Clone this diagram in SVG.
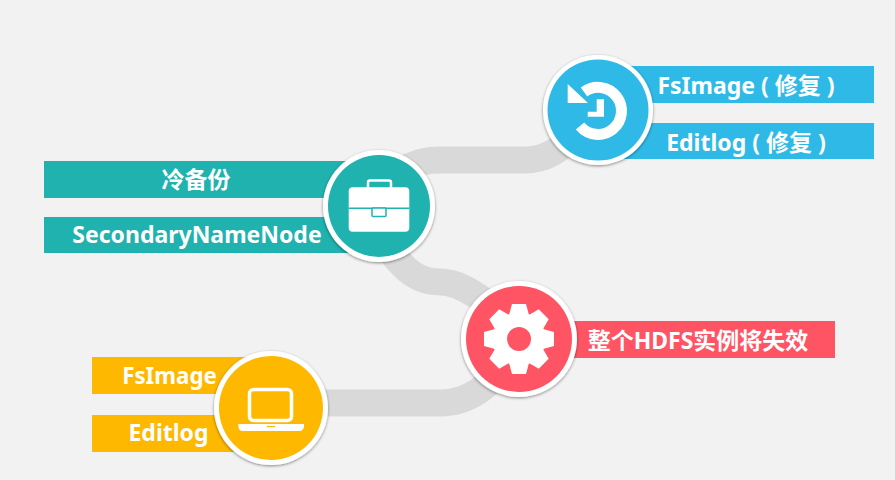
<svg xmlns="http://www.w3.org/2000/svg" width="895" height="480" viewBox="0 0 895 480">
<style>
text{font-family:"Noto Sans","Noto Sans CJK SC",sans-serif;font-weight:700;fill:#fff;font-size:23px;text-anchor:middle}
.ring{fill:#fff;filter:url(#sh)}
.link{fill:none;stroke:#d9d9d9;stroke-width:27}
.ic{fill:#fff}
.blue{fill:#2fb9e6}.teal{fill:#1fb2ae}.red{fill:#ff5464}.yellow{fill:#ffb800}
</style>
<defs>
<filter id="sh" x="-20%" y="-20%" width="140%" height="140%"><feDropShadow dx="0" dy="1" stdDeviation="1.6" flood-color="#000" flood-opacity=".45"/></filter>
<polygon id="tooth" class="ic" points="512,304 526,304 529.5,317 508.5,317"/>
</defs>
<rect width="895" height="480" fill="#f2f2f2"/>
<g id="connectors">
<path class="link" d="M400 170C415 165 420 160 440 160H525C545 160 560 150 575 135"/>
<path class="link" d="M390 250C405 272 420 282 440 282C455 282 470 290 490 305"/>
<path class="link" d="M300 403H440C470 403 490 385 510 360"/>
</g>
<g id="node-restore">
<rect class="blue" x="590" y="66" width="284" height="37"/>
<rect class="blue" x="590" y="123" width="284" height="36"/>
<text x="746" y="94">FsImage ( 修复 )</text>
<text x="746" y="151">Editlog ( 修复 )</text>
<circle class="ring" cx="598" cy="110" r="55"/>
<circle class="blue" cx="598" cy="110" r="50.500"/>
<path d="M584 92A23.500 23.500 0 1 1 580 126" fill="none" stroke="#fff" stroke-width="11"/>
<polygon class="ic" points="567.700,84 567.700,103 588,103"/>
<path class="ic" d="M596.700 99.300H604V116.700H587.700V111.700H596.700Z"/>
</g>
<g id="node-backup">
<rect class="teal" x="44" y="161" width="320" height="37"/>
<rect class="teal" x="44" y="217" width="320" height="36"/>
<text x="196" y="188">冷备份</text>
<text x="197" y="243">SecondaryNameNode</text>
<circle class="ring" cx="379" cy="206" r="56"/>
<circle class="teal" cx="379" cy="206" r="51"/>
<rect x="368" y="180.500" width="23" height="9" rx="2" fill="none" stroke="#fff" stroke-width="2.500"/>
<rect class="ic" x="348.700" y="187.300" width="60.600" height="44.400" rx="4"/>
<rect class="teal" x="348.700" y="207.500" width="60.600" height="1.500"/>
<rect class="ic" x="372" y="208" width="14" height="8.500" stroke="#1fb2ae" stroke-width="1.500" rx="1"/>
</g>
<g id="node-failure">
<rect class="red" x="560" y="321" width="275" height="37"/>
<text x="698" y="349">整个HDFS实例将失效</text>
<circle class="ring" cx="519" cy="339" r="58"/>
<circle class="red" cx="519" cy="339" r="53"/>
<circle class="ic" cx="519" cy="339" r="26.500"/>
<use href="#tooth"/>
<use href="#tooth" transform="rotate(45 519 339)"/>
<use href="#tooth" transform="rotate(90 519 339)"/>
<use href="#tooth" transform="rotate(135 519 339)"/>
<use href="#tooth" transform="rotate(180 519 339)"/>
<use href="#tooth" transform="rotate(225 519 339)"/>
<use href="#tooth" transform="rotate(270 519 339)"/>
<use href="#tooth" transform="rotate(315 519 339)"/>
<circle class="red" cx="519" cy="339" r="12"/>
</g>
<g id="node-laptop">
<rect class="yellow" x="92" y="357" width="170" height="37"/>
<rect class="yellow" x="92" y="415" width="170" height="37"/>
<text x="169.500" y="384" style="font-size:22.300px">FsImage</text>
<text x="168.500" y="441">Editlog</text>
<circle class="ring" cx="271" cy="408" r="57"/>
<circle class="yellow" cx="271" cy="408" r="52"/>
<rect x="249.500" y="389.500" width="42" height="31" rx="4" fill="none" stroke="#fff" stroke-width="3.500"/>
<path class="ic" d="M238.300 424H304V426C304 429 302 431 299 431H243C240 431 238.300 429 238.300 426Z"/>
<rect class="yellow" x="267" y="426" width="8" height="1.200"/>
</g>
</svg>
